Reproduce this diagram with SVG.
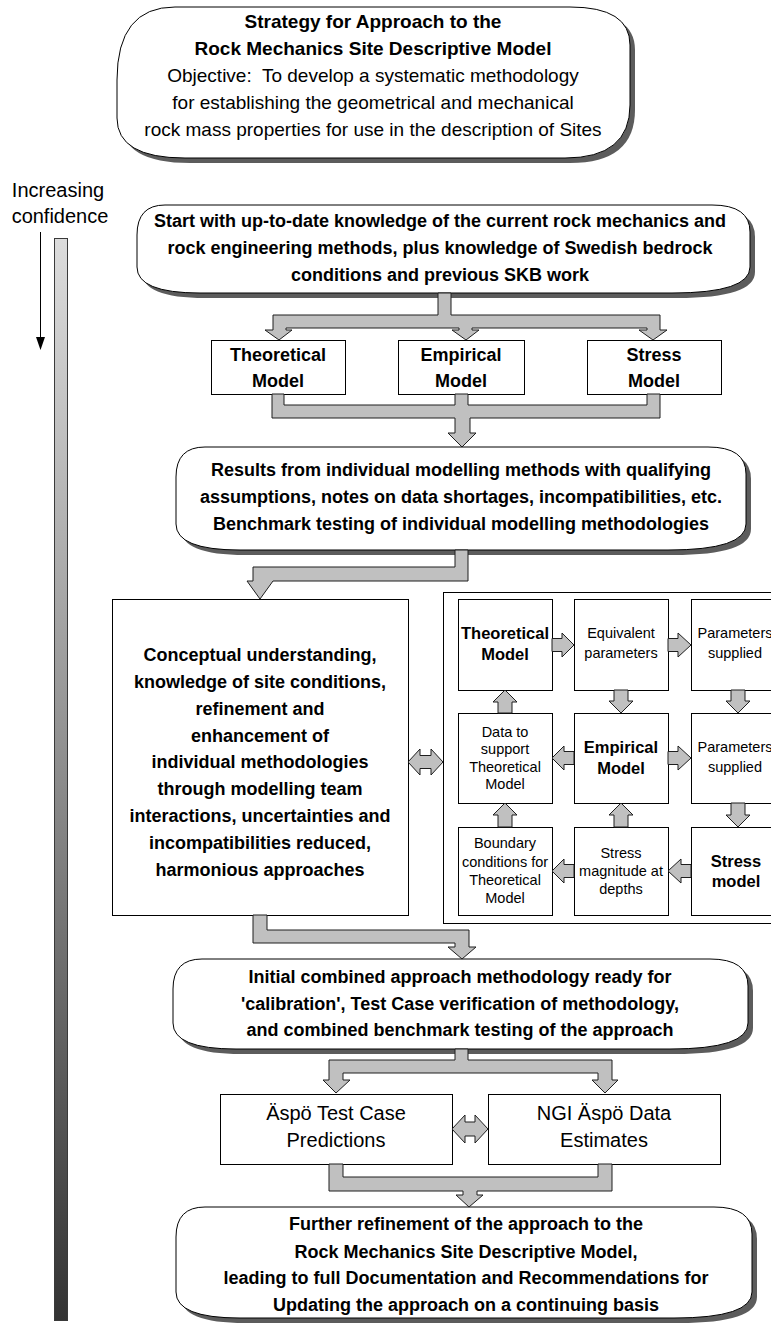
<svg xmlns="http://www.w3.org/2000/svg" width="771" height="1325" viewBox="0 0 771 1325">
  <defs>
    <linearGradient id="conf" x1="0" y1="0" x2="0" y2="1">
      <stop offset="0" stop-color="#dcdcdc"/>
      <stop offset="0.5" stop-color="#8c8c8c"/>
      <stop offset="1" stop-color="#333333"/>
    </linearGradient>
    <style>
      text { font-family: "Liberation Sans", Arial, sans-serif; fill: #000; text-anchor: middle; white-space: pre; }
      .b { font-weight: bold; }
      .t19 { font-size: 19px; }
      .t18 { font-size: 18px; }
      .t20 { font-size: 20px; }
      .g16 { font-size: 16.5px; font-weight: bold; }
      .g14 { font-size: 14.5px; }
      .card { fill: #fff; stroke: #000; stroke-width: 1; }
      .shadow { fill: #5c5c5c; }
      .box { fill: #fff; stroke: #000; stroke-width: 1; }
      .arr { fill: #c0c0c0; stroke: #1e1e1e; stroke-width: 1; stroke-linejoin: miter; }
    </style>
  </defs>
  <rect width="771" height="1325" fill="#fff"/>

  <!-- confidence scale -->
  <g id="confidence">
    <text class="t20" x="58" y="197">Increasing</text>
    <text class="t20" x="60" y="223">confidence</text>
    <line x1="40.5" y1="232" x2="40.5" y2="340" stroke="#000" stroke-width="1"/>
    <polygon points="36,337 45,337 40.5,350" fill="#000"/>
    <rect x="54.5" y="238.5" width="13" height="1082" fill="url(#conf)" stroke="#3a3a3a" stroke-width="1"/>
  </g>

  <!-- objective -->
  <g id="strategy">
    <path class="shadow" transform="translate(5,5)" d="M117,80 Q117,7 175,7 L570,7 Q630,7 630,45 L630,105 Q630,158 565,158 L185,158 Q117,158 117,118 Z"/>
    <path class="card" d="M117,80 Q117,7 175,7 L570,7 Q630,7 630,45 L630,105 Q630,158 565,158 L185,158 Q117,158 117,118 Z"/>
    <text class="t19 b" x="373" y="28">Strategy for Approach to the</text>
    <text class="t19 b" x="373" y="55">Rock Mechanics Site Descriptive Model</text>
    <text class="t19" x="373" y="82" xml:space="preserve">Objective:  To develop a systematic methodology</text>
    <text class="t19" x="373" y="109">for establishing the geometrical and mechanical</text>
    <text class="t19" x="373" y="136">rock mass properties for use in the description of Sites</text>
  </g>

  <g id="start">
    <path class="shadow" transform="translate(5,5)" d="M137,235 Q137,205 165,205 L712,205 Q750,205 750,232 L750,267 Q750,293 672,293 L200,293 Q137,293 137,267 Z"/>
    <path class="card" d="M137,235 Q137,205 165,205 L712,205 Q750,205 750,232 L750,267 Q750,293 672,293 L200,293 Q137,293 137,267 Z"/>
    <text class="t18 b" x="440" y="227">Start with up-to-date knowledge of the current rock mechanics and</text>
    <text class="t18 b" x="440" y="254">rock engineering methods, plus knowledge of Swedish bedrock</text>
    <text class="t18 b" x="440" y="281">conditions and previous SKB work</text>
  </g>

  <g id="theoretical">
    <rect class="box" x="211.5" y="340.5" width="134" height="54"/>
    <text class="t18 b" x="278" y="361">Theoretical</text>
    <text class="t18 b" x="278" y="387">Model</text>
  </g>
  <g id="empirical">
    <rect class="box" x="398.5" y="340.5" width="126" height="54"/>
    <text class="t18 b" x="461" y="361">Empirical</text>
    <text class="t18 b" x="461" y="387">Model</text>
  </g>
  <g id="stress">
    <rect class="box" x="587.5" y="340.5" width="134" height="54"/>
    <text class="t18 b" x="654" y="361">Stress</text>
    <text class="t18 b" x="654" y="387">Model</text>
  </g>

  <g id="results">
    <path class="shadow" transform="translate(5,5)" d="M176,477 Q176,447 205,447 L708,447 Q746,447 746,474 L746,524 Q746,550 668,550 L240,550 Q176,550 176,524 Z"/>
    <path class="card" d="M176,477 Q176,447 205,447 L708,447 Q746,447 746,474 L746,524 Q746,550 668,550 L240,550 Q176,550 176,524 Z"/>
    <text class="t18 b" x="461" y="476">Results from individual modelling methods with qualifying</text>
    <text class="t18 b" x="461" y="503">assumptions, notes on data shortages, incompatibilities, etc.</text>
    <text class="t18 b" x="461" y="530">Benchmark testing of individual modelling methodologies</text>
  </g>

  <g id="conceptual">
    <rect class="box" x="112.5" y="599.5" width="296" height="316"/>
    <text class="t18 b" x="260" y="661">Conceptual understanding,</text>
    <text class="t18 b" x="260" y="688">knowledge of site conditions,</text>
    <text class="t18 b" x="260" y="715">refinement and</text>
    <text class="t18 b" x="260" y="742">enhancement of</text>
    <text class="t18 b" x="260" y="768">individual methodologies</text>
    <text class="t18 b" x="260" y="795">through modelling team</text>
    <text class="t18 b" x="260" y="822">interactions, uncertainties and</text>
    <text class="t18 b" x="260" y="849">incompatibilities reduced,</text>
    <text class="t18 b" x="260" y="876">harmonious approaches</text>
  </g>

  <!-- model interaction matrix -->
  <g id="matrix">
    <rect class="box" x="443.5" y="592.5" width="360" height="331"/>
    <g id="m-theoretical">
      <rect class="box" x="458.5" y="599.5" width="94" height="91"/>
      <text class="g16" x="505" y="639">Theoretical</text>
      <text class="g16" x="505" y="660">Model</text>
    </g>
    <g id="m-equivalent">
      <rect class="box" x="574.5" y="599.5" width="94" height="91"/>
      <text class="g14" x="621" y="638">Equivalent</text>
      <text class="g14" x="621" y="658">parameters</text>
    </g>
    <g id="m-params1">
      <rect class="box" x="691.5" y="599.5" width="94" height="91"/>
      <text class="g14" x="735" y="638">Parameters</text>
      <text class="g14" x="735" y="658">supplied</text>
    </g>
    <g id="m-data">
      <rect class="box" x="458.5" y="713.5" width="94" height="90"/>
      <text class="g14" x="505" y="737">Data to</text>
      <text class="g14" x="505" y="754">support</text>
      <text class="g14" x="505" y="772">Theoretical</text>
      <text class="g14" x="505" y="789">Model</text>
    </g>
    <g id="m-empirical">
      <rect class="box" x="574.5" y="713.5" width="94" height="90"/>
      <text class="g16" x="621" y="753">Empirical</text>
      <text class="g16" x="621" y="774">Model</text>
    </g>
    <g id="m-params2">
      <rect class="box" x="691.5" y="713.5" width="94" height="90"/>
      <text class="g14" x="735" y="752">Parameters</text>
      <text class="g14" x="735" y="772">supplied</text>
    </g>
    <g id="m-boundary">
      <rect class="box" x="458.5" y="827.5" width="94" height="88"/>
      <text class="g14" x="505" y="848">Boundary</text>
      <text class="g14" x="505" y="867">conditions for</text>
      <text class="g14" x="505" y="885">Theoretical</text>
      <text class="g14" x="505" y="903">Model</text>
    </g>
    <g id="m-magnitude">
      <rect class="box" x="574.5" y="827.5" width="94" height="88"/>
      <text class="g14" x="621" y="858">Stress</text>
      <text class="g14" x="621" y="876">magnitude at</text>
      <text class="g14" x="621" y="894">depths</text>
    </g>
    <g id="m-stress">
      <rect class="box" x="691.5" y="827.5" width="94" height="88"/>
      <text class="g16" x="736" y="867">Stress</text>
      <text class="g16" x="736" y="887">model</text>
    </g>
  </g>

  <g id="initial">
    <path class="shadow" transform="translate(5,5)" d="M173,989 Q173,959 202,959 L710,959 Q748,959 748,986 L748,1023 Q748,1049 670,1049 L236,1049 Q173,1049 173,1023 Z"/>
    <path class="card" d="M173,989 Q173,959 202,959 L710,959 Q748,959 748,986 L748,1023 Q748,1049 670,1049 L236,1049 Q173,1049 173,1023 Z"/>
    <text class="t18 b" x="460" y="983">Initial combined approach methodology ready for</text>
    <text class="t18 b" x="460" y="1010">'calibration', Test Case verification of methodology,</text>
    <text class="t18 b" x="460" y="1036">and combined benchmark testing of the approach</text>
  </g>

  <g id="aspo">
    <rect class="box" x="220.5" y="1094.5" width="232" height="70"/>
    <text class="t20" x="336" y="1120">Äspö Test Case</text>
    <text class="t20" x="336" y="1147">Predictions</text>
  </g>
  <g id="ngi">
    <rect class="box" x="488.5" y="1094.5" width="232" height="70"/>
    <text class="t20" x="604" y="1120">NGI Äspö Data</text>
    <text class="t20" x="604" y="1147">Estimates</text>
  </g>

  <g id="further">
    <path class="shadow" transform="translate(5,5)" d="M176,1237 Q176,1207 205,1207 L714,1207 Q752,1207 752,1234 L752,1292 Q752,1318 674,1318 L240,1318 Q176,1318 176,1292 Z"/>
    <path class="card" d="M176,1237 Q176,1207 205,1207 L714,1207 Q752,1207 752,1234 L752,1292 Q752,1318 674,1318 L240,1318 Q176,1318 176,1292 Z"/>
    <text class="t18 b" x="466" y="1230">Further refinement of the approach to the</text>
    <text class="t18 b" x="466" y="1258">Rock Mechanics Site Descriptive Model,</text>
    <text class="t18 b" x="466" y="1284">leading to full Documentation and Recommendations for</text>
    <text class="t18 b" x="466" y="1311">Updating the approach on a continuing basis</text>
  </g>

  <!-- block arrows -->
  <g id="connectors">
    <polygon class="arr" points="438,293 451,293 451,315 660,315 660,330 667,330 653,340 639,330 647,330 647,328 472,328 472,330 479,330 466,340 452,330 459,330 459,328 286,328 286,330 292,330 279,340 265,330 273,330 273,315 438,315"/>
    <polygon class="arr" points="272,394 284,394 284,405 455,405 455,394 468,394 468,405 647,405 647,394 660,394 660,418 470,418 470,433 476,433 462,447 448,433 455,433 455,418 272,418"/>
    <polygon class="arr" points="455,550 468,550 468,581 273,581 260,599 247,581 253,581 253,567 455,567"/>
    <polygon class="arr" points="253,915 267,915 267,930 469,930 469,947 476,947 462,959 448,947 455,947 455,943 253,943"/>
    <polygon class="arr" points="455,1049 468,1049 468,1060 612,1060 612,1080 618,1080 605,1093 592,1080 598,1080 598,1073 343,1073 343,1080 350,1080 336,1093 323,1080 329,1080 329,1060 455,1060"/>
    <polygon class="arr" points="329,1164 343,1164 343,1177 598,1177 598,1164 612,1164 612,1191 477,1191 477,1195 483,1195 469,1207 456,1195 463,1195 463,1191 329,1191"/>
    <polygon class="arr" points="408,762 420,749 420,755.5 431,755.5 431,749 443,762 431,775 431,768.5 420,768.5 420,775"/>
    <polygon class="arr" points="452,1129 465,1115 465,1122 475,1122 475,1115 488,1129 475,1143 475,1136 465,1136 465,1143"/>
    <!-- matrix arrows -->
    <polygon class="arr" points="552,638.5 562,638.5 562,633 574,645 562,657 562,651.5 552,651.5"/>
    <polygon class="arr" points="668,638.5 678,638.5 678,633 691,645 678,657 678,651.5 668,651.5"/>
    <polygon class="arr" points="668,751.5 678,751.5 678,746 691,758 678,770 678,764.5 668,764.5"/>
    <polygon class="arr" points="574,751.5 564,751.5 564,746 552,758 564,770 564,764.5 574,764.5"/>
    <polygon class="arr" points="691,864.5 681,864.5 681,859 668,871 681,883 681,877.5 691,877.5"/>
    <polygon class="arr" points="574,864.5 564,864.5 564,859 552,871 564,883 564,877.5 574,877.5"/>
    <polygon class="arr" points="614,690 628,690 628,701 633,701 621,713 609,701 614,701"/>
    <polygon class="arr" points="731,690 745,690 745,701 750,701 738,713 726,701 731,701"/>
    <polygon class="arr" points="731,803 745,803 745,815 750,815 738,827 726,815 731,815"/>
    <polygon class="arr" points="498,713 512,713 512,702 517,702 505,690 493,702 498,702"/>
    <polygon class="arr" points="498,827 512,827 512,815 517,815 505,803 493,815 498,815"/>
    <polygon class="arr" points="614,827 628,827 628,815 633,815 621,803 609,815 614,815"/>
  </g>
</svg>
